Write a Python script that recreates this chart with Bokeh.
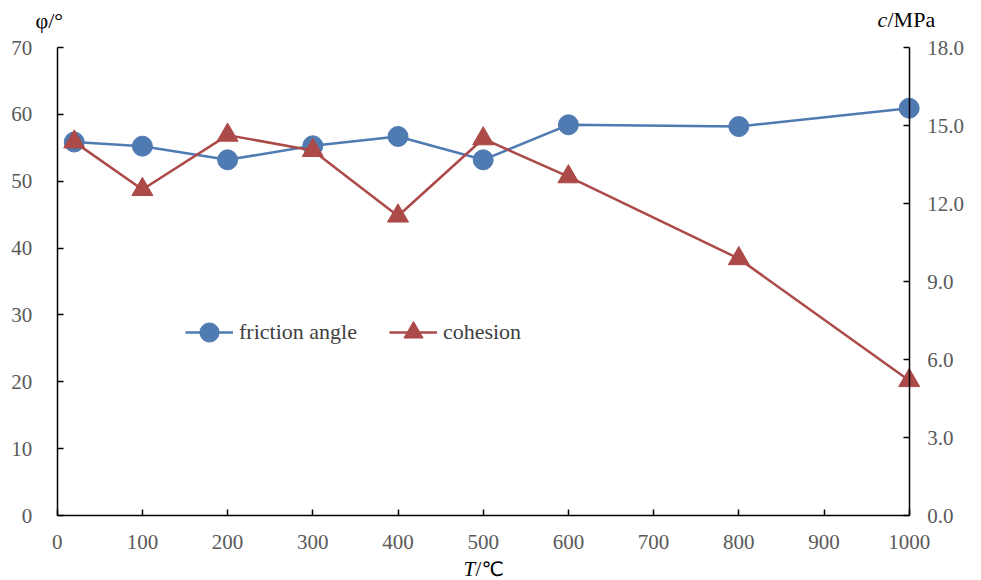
from bokeh.plotting import figure
from bokeh.models import (LinearAxis, Range1d, FixedTicker, NumeralTickFormatter,
                          Label, Legend, LegendItem)
from bokeh.embed import file_html
from bokeh.resources import INLINE

# ---- data ----
T = [20, 100, 200, 300, 400, 500, 600, 800, 1000]
friction_angle = [55.86, 55.24, 53.2, 55.3, 56.69, 53.2, 58.44, 58.18, 60.92]
cohesion = [14.37, 12.54, 14.63, 14.04, 11.52, 14.49, 13.03, 9.88, 5.19]

x_ticks = list(range(0, 1001, 100))
left_ticks = list(range(0, 71, 10))
right_ticks = [0, 3, 6, 9, 12, 15, 18]
X_MAX, PHI_MAX, C_MAX = 1000, 70, 18

# ---- layout (canvas pixels) ----
W, H = 978, 578
AX_LEFT_PX, AX_RIGHT_PX = 56.7, 908.7     # where x=0 and x=1000 sit
AX_BOTTOM_PX, AX_TOP_PX = 515.0, 47.0     # where y=0 and y=70 sit

px_per_x = (AX_RIGHT_PX - AX_LEFT_PX) / X_MAX
px_per_y = (AX_BOTTOM_PX - AX_TOP_PX) / PHI_MAX
x_range = Range1d(-AX_LEFT_PX / px_per_x, (W - AX_LEFT_PX) / px_per_x)
y_lo = -(H - AX_BOTTOM_PX) / px_per_y
y_hi = AX_BOTTOM_PX / px_per_y
y_range = Range1d(y_lo, y_hi)
c_range = Range1d(y_lo * C_MAX / PHI_MAX, y_hi * C_MAX / PHI_MAX)

BLUE = "#4F7AB2"
RED = "#AB4A48"
SERIF = "Liberation Serif"
TICK_COLOR = "#595959"

p = figure(width=W, height=H, x_range=x_range, y_range=y_range,
           x_axis_type=None, y_axis_type=None,
           min_border_left=0, min_border_right=0,
           min_border_top=0, min_border_bottom=0,
           output_backend="svg", toolbar_location=None)
p.extra_y_ranges = {"c": c_range}
p.xgrid.visible = False
p.ygrid.visible = False
p.outline_line_color = None
p.background_fill_color = "white"
p.border_fill_color = "white"


def style_axis(ax, standoff):
    ax.major_tick_in = 6
    ax.major_tick_out = 0
    ax.minor_tick_line_color = None
    ax.axis_line_color = "black"
    ax.axis_line_width = 1.5
    ax.major_tick_line_color = "black"
    ax.major_tick_line_width = 1.5
    ax.major_label_text_font = SERIF
    ax.major_label_text_font_size = "21px"
    ax.major_label_text_color = TICK_COLOR
    ax.major_label_standoff = standoff


xaxis = LinearAxis(fixed_location=0, bounds=(0, X_MAX),
                   ticker=FixedTicker(ticks=x_ticks))
style_axis(xaxis, 19)
p.add_layout(xaxis, "below")

laxis = LinearAxis(fixed_location=0, bounds=(0, PHI_MAX),
                   ticker=FixedTicker(ticks=left_ticks))
style_axis(laxis, 25)
p.add_layout(laxis, "left")

raxis = LinearAxis(y_range_name="c", fixed_location=X_MAX, bounds=(0, C_MAX),
                   ticker=FixedTicker(ticks=right_ticks),
                   formatter=NumeralTickFormatter(format="0.0"))
style_axis(raxis, 18)
p.add_layout(raxis, "right")

# ---- series ----
l1 = p.line(T, friction_angle, line_color=BLUE, line_width=2.5)
s1 = p.scatter(T, friction_angle, marker="circle", size=20,
               fill_color=BLUE, line_color=BLUE)
l2 = p.line(T, cohesion, line_color=RED, line_width=2.5, y_range_name="c")
s2 = p.scatter(T, cohesion, marker="triangle", size=21,
               fill_color=RED, line_color=RED, y_range_name="c")

legend = Legend(items=[LegendItem(label="friction angle", renderers=[l1, s1]),
                       LegendItem(label="cohesion", renderers=[l2, s2])],
                location=(185, H - 357), orientation="horizontal",
                glyph_width=48, glyph_height=50, label_standoff=6, spacing=32,
                padding=0, margin=0, border_line_color=None,
                background_fill_alpha=0,
                label_text_font=SERIF, label_text_font_size="22px",
                label_text_color="#404040")
p.add_layout(legend, "center")


def lab(x, y_top_down, text, font=SERIF, style="normal", size="22px"):
    p.add_layout(Label(x=x, y=H - y_top_down, x_units="screen", y_units="screen",
                       text=text, text_font=font, text_font_style=style,
                       text_font_size=size, text_align="left",
                       text_baseline="alphabetic", text_color="black"))


lab(35, 20, "φ/°")
lab(877, 19, "c", style="italic")
lab(887, 19, "/MPa")
lab(463, 568, "T", style="italic", size="21px")
lab(475, 568, "/", size="21px")
lab(481, 568, "℃", font="DejaVu Sans", size="20px")

open("out.html", "w").write(file_html(p, INLINE))
